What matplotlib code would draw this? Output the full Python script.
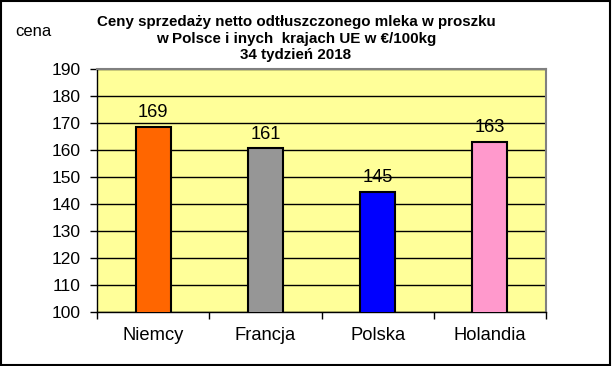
import matplotlib
matplotlib.use("Agg")
import matplotlib.pyplot as plt
from matplotlib.patches import Rectangle

# data
countries = ['Niemcy', 'Francja', 'Polska', 'Holandia']
prices = [168.6, 160.6, 144.6, 162.9]
bar_colors = ['#FF6600', '#969696', '#0000FF', '#FF99CC']
y_ticks = list(range(100, 191, 10))

title = ('Ceny sprzedaży netto odtłuszczonego mleka w proszku\n'
         'w Polsce i inych  krajach UE w €/100kg\n'
         '34 tydzień 2018')

plt.rcParams['font.family'] = ['Liberation Sans', 'DejaVu Sans']

fig = plt.figure(figsize=(6.12, 3.66), dpi=100)
fig.patch.set_facecolor('white')
# black frame around the whole chart
fig.patches.append(Rectangle((0.002, 0.003), 0.995, 0.994, transform=fig.transFigure,
                             fill=False, edgecolor='black', linewidth=1.5))

ax = fig.add_axes([97 / 612, 1 - 312 / 366, (546 - 97) / 612, (312 - 69) / 366])
ax.set_facecolor('#FFFF99')

x = list(range(len(countries)))
ax.bar(x, prices, width=0.31, bottom=0, color=bar_colors,
       edgecolor='black', linewidth=1.5, zorder=3)

for xi, v in zip(x, prices):
    ax.annotate('{:.0f}'.format(v), (xi, v), xytext=(0, 7), textcoords='offset points',
                ha='center', va='baseline', fontsize=13.2, zorder=4)

ax.set_xlim(-0.5, len(countries) - 0.5)
ax.set_ylim(100, 190)
ax.set_yticks(y_ticks)
ax.yaxis.grid(True, color='black', linewidth=1.0, zorder=0)
ax.set_axisbelow(True)

ax.set_xticks(x)
ax.set_xticklabels(countries, fontsize=13.2)
ax.set_xticks([i - 0.5 for i in range(len(countries) + 1)], minor=True)
ax.tick_params(axis='x', which='major', length=0, pad=11)
ax.tick_params(axis='x', which='minor', length=5, width=1, direction='out')
ax.tick_params(axis='y', labelsize=12.5, length=5, width=1, direction='out', pad=7)

for side in ('top', 'right'):
    ax.spines[side].set_color('#808080')
    ax.spines[side].set_linewidth(1.5)
for side in ('left', 'bottom'):
    ax.spines[side].set_color('black')
    ax.spines[side].set_linewidth(1.0)

fig.text(296 / 612, 1 - 15 / 366, title, ha='center', va='top',
         fontsize=10.9, fontweight='bold', linespacing=1.25)
fig.text(33 / 612, 1 - 32 / 366, 'cena', ha='center', va='center', fontsize=12)

fig.savefig('out.png', dpi=100)
